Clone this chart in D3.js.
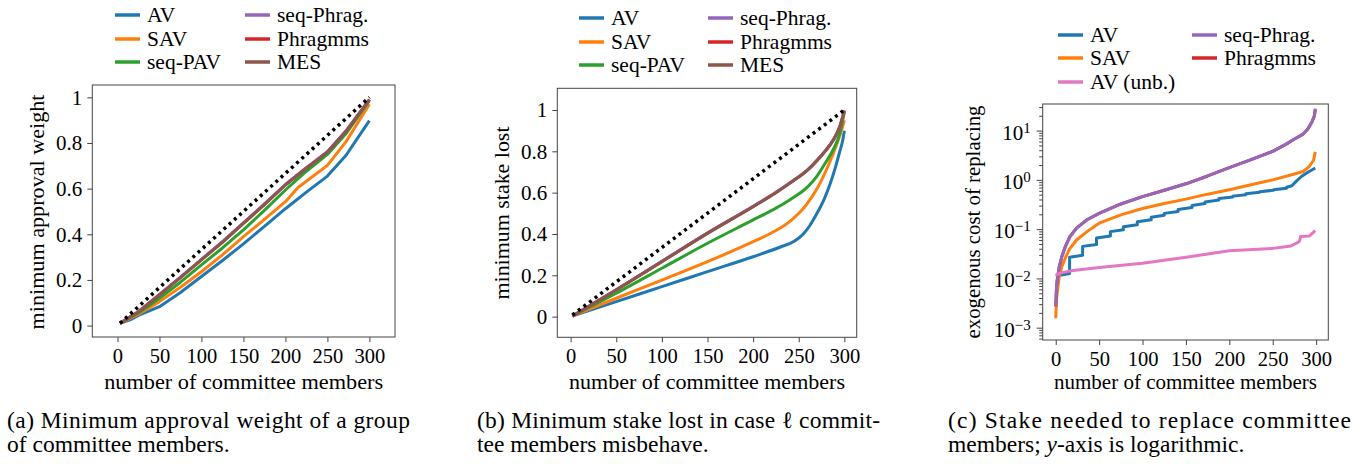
<!DOCTYPE html>
<html>
<head>
<meta charset="utf-8">
<script src="https://cdn.jsdelivr.net/npm/d3@7"></script>
<style>
body { margin: 0; background: #fff; }
text { font-family: "Liberation Serif", "DejaVu Serif", serif; fill: #000; }
</style>
</head>
<body>
<div id="chart-container"></div>
<script>
// ---- data ----
const xTicks = [0, 50, 100, 150, 200, 250, 300];
const linTicks = [0, 0.2, 0.4, 0.6, 0.8, 1];
const logTicks = [1e-3, 1e-2, 1e-1, 1, 10];

const legendA = ["AV", "SAV", "seq-PAV", "seq-Phrag.", "Phragmms", "MES"];
const legendC = ["AV", "SAV", "AV (unb.)", "seq-Phrag.", "Phragmms"];

const colors = {
    "AV": "#1f77b4", "SAV": "#ff7f0e", "seq-PAV": "#2ca02c", "seq-Phrag.": "#9467bd",
    "Phragmms": "#d62728", "MES": "#8c564b", "AV (unb.)": "#e377c2"
};

// (a) minimum approval weight
const diagA = [[3, 0.01], [300, 1]];
const weightAV = [[3, 0.01], [15, 0.025], [25, 0.045], [50, 0.083], [75, 0.145], [100, 0.215], [125, 0.285], [150, 0.358], [175, 0.435], [200, 0.512], [225, 0.585], [250, 0.655], [272, 0.745], [300, 0.898]];
const weightSAV = [[3, 0.01], [25, 0.05], [50, 0.105], [75, 0.168], [100, 0.236], [125, 0.31], [150, 0.39], [175, 0.465], [200, 0.543], [215, 0.605], [250, 0.702], [272, 0.805], [300, 0.97]];
const weightPAV = [[3, 0.01], [25, 0.055], [50, 0.12], [75, 0.19], [100, 0.266], [125, 0.34], [150, 0.419], [175, 0.505], [200, 0.594], [222, 0.667], [250, 0.75], [272, 0.84], [300, 0.985]];
const weightPhrag = [[3, 0.01], [25, 0.062], [50, 0.136], [75, 0.212], [100, 0.29], [125, 0.368], [150, 0.45], [175, 0.533], [200, 0.618], [225, 0.692], [250, 0.762], [272, 0.852], [300, 0.99]];
const weightPhragmms = [[3, 0.01], [25, 0.061], [50, 0.135], [75, 0.211], [100, 0.289], [125, 0.366], [150, 0.449], [175, 0.531], [200, 0.617], [225, 0.691], [250, 0.761], [272, 0.851], [300, 0.99]];
const weightMES = [[3, 0.01], [25, 0.06], [50, 0.134], [75, 0.21], [100, 0.288], [125, 0.365], [150, 0.448], [175, 0.53], [200, 0.616], [225, 0.69], [250, 0.76], [272, 0.85], [300, 0.99]];

// (b) minimum stake lost
const diagB = [[2, 0.008], [299, 0.997]];
const stakeAV = [[2, 0.003], [50, 0.073], [100, 0.145], [150, 0.218], [200, 0.29], [230, 0.337], [245, 0.365], [255, 0.40], [262, 0.44], [270, 0.50], [278, 0.57], [285, 0.65], [290, 0.72], [295, 0.80], [298, 0.85], [300, 0.9]];
const stakeSAV = [[2, 0.003], [50, 0.089], [100, 0.177], [150, 0.266], [200, 0.363], [220, 0.405], [240, 0.46], [258, 0.54], [272, 0.635], [286, 0.77], [296, 0.89], [300, 0.95]];
const stakePAV = [[2, 0.003], [50, 0.113], [100, 0.234], [150, 0.355], [200, 0.468], [225, 0.525], [240, 0.565], [260, 0.629], [270, 0.68], [280, 0.75], [288, 0.81], [295, 0.887], [300, 0.99]];
const stakePhrag = [[2, 0.003], [50, 0.13], [100, 0.268], [150, 0.405], [200, 0.534], [225, 0.602], [240, 0.647], [260, 0.712], [270, 0.757], [280, 0.808], [288, 0.857], [295, 0.92], [300, 0.997]];
const stakePhragmms = [[2, 0.003], [50, 0.13], [100, 0.267], [150, 0.404], [200, 0.533], [225, 0.601], [240, 0.646], [260, 0.711], [270, 0.756], [280, 0.807], [288, 0.856], [295, 0.92], [300, 0.997]];
const stakeMES = [[2, 0.003], [50, 0.129], [100, 0.266], [150, 0.403], [200, 0.532], [225, 0.6], [240, 0.645], [260, 0.71], [270, 0.755], [280, 0.806], [288, 0.855], [295, 0.919], [300, 0.997]];

// (c) exogenous cost of replacing (log axis)
const costAV = [[0, 0.0112], [16, 0.0126], [16, 0.0269], [31, 0.0295], [31, 0.0447], [47, 0.049], [47, 0.0661], [63, 0.0724], [63, 0.0891], [78, 0.0977], [78, 0.112], [94, 0.123], [94, 0.141], [110, 0.155], [110, 0.174], [125, 0.191], [125, 0.209], [141, 0.229], [141, 0.251], [157, 0.275], [157, 0.302], [172, 0.331], [172, 0.355], [188, 0.389], [188, 0.417], [204, 0.447], [204, 0.468], [219, 0.501], [219, 0.525], [235, 0.562], [235, 0.575], [251, 0.617], [251, 0.631], [266, 0.676], [266, 0.708], [272, 0.759], [277, 0.933], [283, 1.17], [290, 1.41], [299, 1.74]];
const costSAV = [[0, 0.00155], [1, 0.004], [2, 0.0056], [4, 0.0107], [7, 0.0174], [11, 0.0257], [16, 0.0398], [24, 0.0603], [36, 0.0891], [50, 0.132], [75, 0.195], [100, 0.263], [125, 0.331], [150, 0.407], [175, 0.513], [200, 0.631], [225, 0.794], [250, 1.0], [275, 1.32], [285, 1.48], [292, 1.86], [297, 2.5], [299, 3.7]];
const costPhrag = [[0, 0.0027], [1, 0.0071], [2, 0.01], [4, 0.017], [7, 0.0275], [11, 0.0437], [16, 0.0692], [24, 0.105], [36, 0.155], [50, 0.209], [75, 0.324], [100, 0.457], [125, 0.617], [150, 0.832], [175, 1.2], [200, 1.78], [225, 2.57], [250, 3.8], [265, 5.25], [275, 6.76], [285, 8.5], [290, 10.5], [295, 14.8], [298, 20], [299, 28]];
const costPhragmms = [[0, 0.0027], [1, 0.0071], [2, 0.01], [4, 0.017], [7, 0.0275], [11, 0.0437], [16, 0.0692], [24, 0.105], [36, 0.155], [50, 0.209], [75, 0.324], [100, 0.457], [125, 0.617], [150, 0.832], [175, 1.2], [200, 1.78], [225, 2.57], [250, 3.8], [265, 5.25], [275, 6.76], [285, 8.5], [290, 10.5], [295, 14.8], [298, 20], [299, 27]];
const costUnb = [[0, 0.0117], [5, 0.0128], [20, 0.0145], [50, 0.0166], [100, 0.0204], [150, 0.0269], [200, 0.0363], [250, 0.0407], [260, 0.0427], [271, 0.0457], [278, 0.0525], [281, 0.0575], [282, 0.0708], [292, 0.0724], [299, 0.093]];

// ---- drawing ----
const svg = d3.select("#chart-container")
    .append("svg")
    .attr("width", 1364)
    .attr("height", 464);

function styleAxis(ax, size) {
    ax.attr("font-family", null).attr("font-size", null);
    ax.select(".domain").remove();
    ax.selectAll("line").attr("stroke", "#444");
    ax.selectAll("text").style("font-size", size + "px");
}

function drawPanel(p) {
    const g = svg.append("g");
    const x = d3.scaleLinear().domain(p.xDomain).range([p.left, p.right]);
    const y = (p.log ? d3.scaleLog() : d3.scaleLinear()).domain(p.yDomain).range([p.bottom, p.top]);

    const clipId = "clip-" + p.id;
    svg.append("clipPath").attr("id", clipId)
        .append("rect")
        .attr("x", p.left).attr("y", p.top)
        .attr("width", p.right - p.left).attr("height", p.bottom - p.top);

    const line = d3.line()
        .x(d => x(d[0]))
        .y(d => y(d[1]))
        .curve(p.curve || d3.curveLinear);

    const plot = g.append("g").attr("clip-path", `url(#${clipId})`);
    p.series.forEach(s => {
        plot.append("path")
            .attr("d", line(s.data))
            .attr("fill", "none")
            .attr("stroke", s.color)
            .attr("stroke-width", s.width || 3)
            .attr("stroke-dasharray", s.dash || null)
            .attr("stroke-linejoin", "round");
    });

    // X axis
    const xAxis = g.append("g")
        .attr("transform", `translate(0, ${p.bottom})`)
        .call(d3.axisBottom(x).tickValues(xTicks).tickSize(5).tickPadding(6).tickSizeOuter(0));
    styleAxis(xAxis, 20.5);

    // Y axis
    if (p.log) {
        const minor = y.ticks().filter(t => logTicks.indexOf(t) < 0);
        const ym = g.append("g")
            .attr("transform", `translate(${p.left}, 0)`)
            .call(d3.axisLeft(y).tickValues(minor).tickSize(3.5).tickFormat(""));
        styleAxis(ym, 20);
        const ya = g.append("g")
            .attr("transform", `translate(${p.left}, 0)`)
            .call(d3.axisLeft(y).tickValues(logTicks).tickSize(6).tickPadding(6).tickFormat(""));
        styleAxis(ya, 21);
        ya.selectAll(".tick").each(function(d) {
            const t = d3.select(this).select("text").attr("dy", "0.4em");
            t.append("tspan").text("10");
            t.append("tspan")
                .attr("dy", "-0.45em")
                .style("font-size", "15px")
                .text(String(Math.round(Math.log10(d))).replace("-", "\u2212"));
        });
    } else {
        const ya = g.append("g")
            .attr("transform", `translate(${p.left}, 0)`)
            .call(d3.axisLeft(y).tickValues(linTicks).tickSize(5).tickPadding(5)
                .tickFormat(d => d3.format("~g")(d)));
        styleAxis(ya, 21);
    }

    // frame
    g.append("rect")
        .attr("x", p.left).attr("y", p.top)
        .attr("width", p.right - p.left).attr("height", p.bottom - p.top)
        .attr("fill", "none")
        .attr("stroke", "#444")
        .attr("stroke-width", 1);

    // axis labels
    g.append("text")
        .attr("x", (p.left + p.right) / 2)
        .attr("y", 389)
        .attr("text-anchor", "middle")
        .attr("textLength", p.xLabelLen)
        .attr("lengthAdjust", "spacingAndGlyphs")
        .style("font-size", "21px")
        .text("number of committee members");

    g.append("text")
        .attr("transform", `translate(${p.yLabelX}, ${p.yLabelY}) rotate(-90)`)
        .attr("text-anchor", "middle")
        .attr("dy", "0.35em")
        .attr("textLength", p.yLabelLen)
        .attr("lengthAdjust", "spacingAndGlyphs")
        .style("font-size", "21px")
        .text(p.yLabel);

    // legend (column-first, three rows)
    p.legend.forEach((name, i) => {
        const col = Math.floor(i / 3), row = i % 3;
        const lx = p.legX[col], ly = p.legY[row];
        g.append("line")
            .attr("x1", lx).attr("x2", lx + 25)
            .attr("y1", ly).attr("y2", ly)
            .attr("stroke", colors[name])
            .attr("stroke-width", 3.5);
        g.append("text")
            .attr("x", lx + 32)
            .attr("y", ly)
            .attr("dy", "0.33em")
            .style("font-size", "21.5px")
            .text(name);
    });

    // caption
    const cap = g.append("g").style("font-size", "23.5px");
    cap.append("text")
        .attr("x", p.capX).attr("y", 428)
        .attr("textLength", 403)
        .attr("lengthAdjust", "spacing")
        .text(p.caption[0]);
    const c2 = cap.append("text").attr("x", p.capX).attr("y", 452);
    p.caption[1].forEach(part => {
        c2.append("tspan").style("font-style", part.italic ? "italic" : null).text(part.t);
    });
}

const dots = "3,4";

drawPanel({
    id: "a", left: 92.3, right: 395, top: 85, bottom: 337,
    xDomain: [-30, 330.5], yDomain: [-0.05, 1.054],
    series: [
        { data: weightAV, color: colors["AV"] },
        { data: weightSAV, color: colors["SAV"] },
        { data: weightPAV, color: colors["seq-PAV"] },
        { data: weightPhragmms, color: colors["Phragmms"] },
        { data: weightPhrag, color: colors["seq-Phrag."] },
        { data: weightMES, color: colors["MES"] },
        { data: diagA, color: "#000", dash: dots, width: 3.5 }
    ],
    yLabel: "minimum approval weight", yLabelX: 37, yLabelY: 212, yLabelLen: 235, xLabelLen: 279,
    legend: legendA, legX: [115, 245], legY: [15, 39, 62],
    capX: 7,
    caption: ["(a) Minimum approval weight of a group", [{ t: "of committee members." }]]
});

drawPanel({
    id: "b", left: 557.3, right: 856.7, top: 88.3, bottom: 337.3,
    xDomain: [-14.6, 313.5], yDomain: [-0.1, 1.105],
    curve: d3.curveMonotoneX,
    series: [
        { data: stakeAV, color: colors["AV"] },
        { data: stakeSAV, color: colors["SAV"] },
        { data: stakePAV, color: colors["seq-PAV"] },
        { data: stakePhragmms, color: colors["Phragmms"] },
        { data: stakePhrag, color: colors["seq-Phrag."] },
        { data: stakeMES, color: colors["MES"] },
        { data: diagB, color: "#000", dash: dots, width: 3.5 }
    ],
    yLabel: "minimum stake lost", yLabelX: 502, yLabelY: 213, yLabelLen: 173, xLabelLen: 276,
    legend: legendA, legX: [579, 708], legY: [18, 42, 65],
    capX: 477,
    caption: ["(b) Minimum stake lost in case \u2113 commit-", [{ t: "tee members misbehave." }]]
});

drawPanel({
    id: "c", left: 1042.7, right: 1328.3, top: 104, bottom: 340,
    xDomain: [-15, 314], yDomain: [Math.pow(10, -3.25), Math.pow(10, 1.54)], log: true,
    series: [
        { data: costAV, color: colors["AV"] },
        { data: costSAV, color: colors["SAV"] },
        { data: costPhragmms, color: colors["Phragmms"] },
        { data: costPhrag, color: colors["seq-Phrag."] },
        { data: costUnb, color: colors["AV (unb.)"] }
    ],
    yLabel: "exogenous cost of replacing", yLabelX: 973, yLabelY: 222, yLabelLen: 233, xLabelLen: 263,
    legend: legendC, legX: [1058, 1192], legY: [35, 58, 82],
    capX: 948,
    caption: ["(c) Stake needed to replace committee",
        [{ t: "members; " }, { t: "y", italic: true }, { t: "-axis is logarithmic." }]]
});
</script>
</body>
</html>
